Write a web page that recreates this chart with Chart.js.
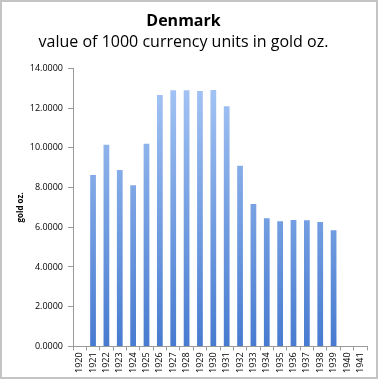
<!DOCTYPE html>
<html>
<head>
<meta charset="utf-8">
<script src="https://cdn.jsdelivr.net/npm/chart.js@4/dist/chart.umd.min.js"></script>
<style>
  html, body { margin: 0; padding: 0; background: #fff; }
  #wrap { width: 378px; height: 379px; position: relative; }
</style>
</head>
<body>
<div id="wrap"><canvas id="chart" width="378" height="379"></canvas></div>
<script>
// years on the x axis
const years = ['1920', '1921', '1922', '1923', '1924', '1925', '1926', '1927', '1928', '1929', '1930',
  '1931', '1932', '1933', '1934', '1935', '1936', '1937', '1938', '1939', '1940', '1941'];

// value of 1000 kroner in gold oz. (no bars for 1920, 1940, 1941)
const goldOz = [null, 8.63, 10.15, 8.89, 8.12, 10.2, 12.66, 12.9, 12.9, 12.86, 12.91,
  12.1, 9.1, 7.17, 6.45, 6.3, 6.36, 6.35, 6.26, 5.85, null, null];

const yTicks = [0, 2, 4, 6, 8, 10, 12, 14];

const font = "'Open Sans', 'Liberation Sans', sans-serif";

// light blue at the top, darker blue at the bottom of each bar
function barFill(ctx) {
  const area = ctx.chart.chartArea;
  if (!area) return '#7aa4e4';
  const g = ctx.chart.ctx.createLinearGradient(0, area.top, 0, area.bottom);
  g.addColorStop(0, '#a9c8f6');
  g.addColorStop(1, '#477bd0');
  return g;
}

// thin grey frame round the whole picture
const frame = {
  id: 'frame',
  afterDraw(chart) {
    const c = chart.ctx;
    c.save();
    c.strokeStyle = '#c4c4c4';
    c.lineWidth = 2;
    c.strokeRect(1, 1, chart.width - 2, chart.height - 2);
    c.restore();
  }
};

new Chart(document.getElementById('chart'), {
  type: 'bar',
  data: {
    labels: years,
    datasets: [{
      data: goldOz,
      backgroundColor: barFill,
      borderWidth: 0,
      barPercentage: 0.43,
      categoryPercentage: 1
    }]
  },
  options: {
    responsive: false,
    animation: false,
    layout: { padding: { left: 0, right: 11, top: 0, bottom: 4 } },
    plugins: {
      legend: { display: false },
      tooltip: { enabled: false },
      title: {
        display: true,
        text: 'Denmark',
        color: '#000',
        font: { family: font, size: 16, weight: 'bold' },
        padding: { top: 12, bottom: 0 }
      },
      subtitle: {
        display: true,
        text: 'value of 1000 currency units in gold oz.',
        color: '#000',
        font: { family: font, size: 16 },
        padding: { top: 2, bottom: 16 }
      }
    },
    scales: {
      x: {
        offset: true,
        grid: {
          display: true,
          offset: true,
          drawOnChartArea: false,
          color: '#9a9a9a',
          tickLength: 4
        },
        border: { color: '#9a9a9a' },
        ticks: {
          color: '#000',
          font: { family: font, size: 9 },
          maxRotation: 90,
          minRotation: 90,
          autoSkip: false,
          padding: 2
        }
      },
      y: {
        min: 0,
        max: 14,
        afterFit(scale) { scale.width = 73; },
        afterBuildTicks(scale) { scale.ticks = yTicks.map(v => ({ value: v })); },
        grid: {
          display: true,
          drawOnChartArea: false,
          color: '#9a9a9a',
          tickLength: 5
        },
        border: { color: '#9a9a9a' },
        ticks: {
          color: '#000',
          font: { family: font, size: 9 },
          padding: 5,
          callback: v => v.toFixed(4)
        },
        title: {
          display: true,
          text: 'gold oz.',
          color: '#000',
          font: { family: font, size: 8, weight: 'bold' },
          padding: { top: 16, bottom: 0 }
        }
      }
    }
  },
  plugins: [frame]
});
</script>
</body>
</html>
